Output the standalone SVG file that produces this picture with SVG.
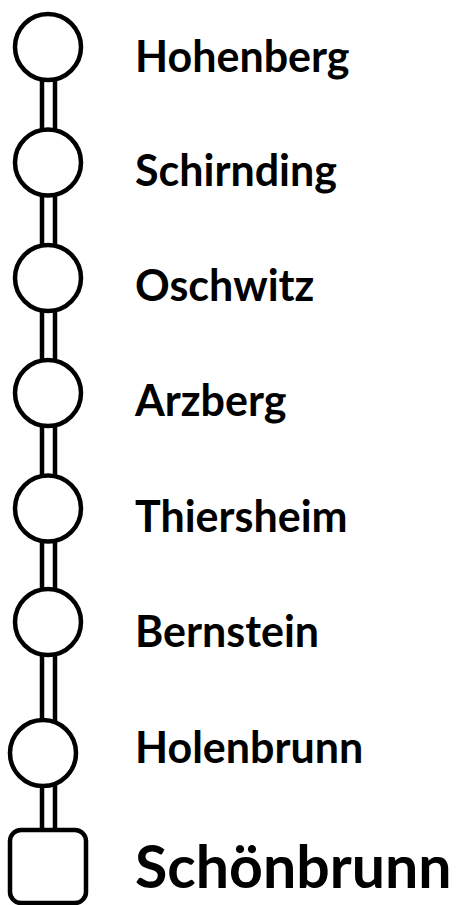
<svg xmlns="http://www.w3.org/2000/svg" width="458" height="905" viewBox="0 0 458 905">
<style>
.rail{stroke:#000;stroke-width:4.5;fill:none}
.stop{fill:#fff;stroke:#000;stroke-width:4.5}
.lbl{font-family:Lato,"Open Sans",sans-serif;font-weight:bold;font-size:43px;fill:#000}
.big{font-size:59px}
</style>
<rect width="458" height="905" fill="#fff"/>
<g id="connectors">
<path class="rail" d="M42,47V162.5M55,47V162.5"/>
<path class="rail" d="M42,162.5V278M55,162.5V278"/>
<path class="rail" d="M42,278V393M55,278V393"/>
<path class="rail" d="M42,393V508.5M55,393V508.5"/>
<path class="rail" d="M42,508.5V622M55,508.5V622"/>
<path class="rail" d="M42,622V753M55,622V753"/>
<path class="rail" d="M42,753V860M55,753V860"/>
</g>
<g id="hohenberg"><circle class="stop" cx="48" cy="47" r="33"/><text class="lbl" x="135" y="72">Hohenberg</text></g>
<g id="schirnding"><circle class="stop" cx="48" cy="162.5" r="33"/><text class="lbl" x="135" y="186">Schirnding</text></g>
<g id="oschwitz"><circle class="stop" cx="48" cy="278" r="33"/><text class="lbl" x="135" y="301">Oschwitz</text></g>
<g id="arzberg"><circle class="stop" cx="48" cy="393" r="33"/><text class="lbl" x="135" y="416">Arzberg</text></g>
<g id="thiersheim"><circle class="stop" cx="48" cy="508.5" r="33"/><text class="lbl" x="135" y="532">Thiersheim</text></g>
<g id="bernstein"><circle class="stop" cx="48" cy="622" r="33"/><text class="lbl" x="135" y="647">Bernstein</text></g>
<g id="holenbrunn"><circle class="stop" cx="43" cy="753" r="33"/><text class="lbl" x="135" y="763">Holenbrunn</text></g>
<g id="schoenbrunn"><rect class="stop" x="10" y="830" width="76" height="73" rx="11"/><text class="lbl big" x="135" y="888">Schönbrunn</text></g>
</svg>
